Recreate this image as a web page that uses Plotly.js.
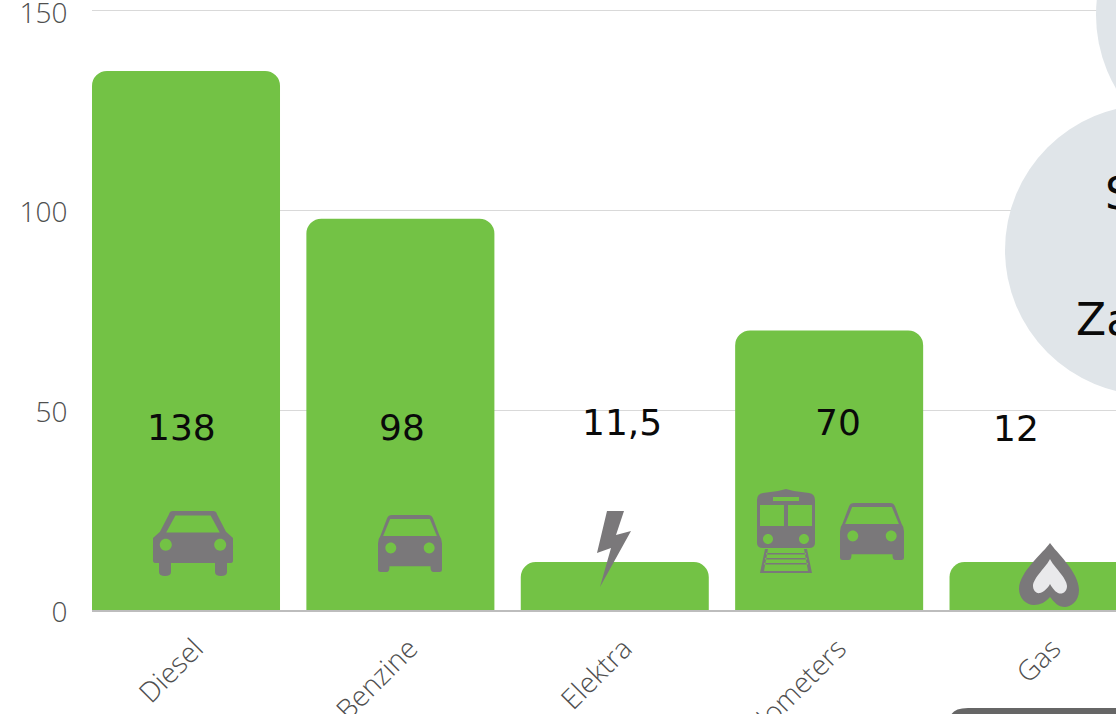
<!DOCTYPE html>
<html>
<head>
<meta charset="utf-8">
<script src="https://cdn.plot.ly/plotly-3.0.1.min.js"></script>
<style>html,body{margin:0;padding:0;background:#fff;overflow:hidden}#c{width:1116px;height:714px}</style>
</head>
<body>
<div id="c"></div>
<script>
const categories = ['Diesel', 'Benzine', 'Elektra', 'Kilometers', 'Gas'];
const barValues = [135, 98, 12, 70, 12];
const valueLabels = ['138', '98', '11,5', '70', '12'];
const yTicks = [0, 50, 100, 150];
const circleWords = ['S', 'Za'];

const W = 1116, H = 714, L = 92, T = 3, B = 610;
const px = x => (x - L) / (W - L);
const py = y => (B - y) / (B - T);
const GREY = '#7a787a', BG = '#e0e5e9';

// icon paths are written in page pixels and converted to paper fractions
const conv = s => s.replace(/(-?[\d.]+),(-?[\d.]+)/g, (m, a, b) => px(+a).toFixed(5) + ',' + py(+b).toFixed(5));
const icon = (d, fill) => ({type: 'path', xref: 'paper', yref: 'paper', path: conv(d), fillcolor: fill || GREY, line: {width: 0}, layer: 'above'});
const k = 0.5523;
const circ = (x, y, r) => `M${x - r},${y} C${x - r},${y - k * r} ${x - k * r},${y - r} ${x},${y - r} C${x + k * r},${y - r} ${x + r},${y - k * r} ${x + r},${y} C${x + r},${y + k * r} ${x + k * r},${y + r} ${x},${y + r} C${x - k * r},${y + r} ${x - r},${y + k * r} ${x - r},${y} Z `;

function car(x0, y0, x1, y1) {
  const w = x1 - x0, h = y1 - y0;
  const P = (a, b) => (x0 + a * w).toFixed(2) + ',' + (y0 + b * h).toFixed(2);
  const outer = `M${P(0, .415)} L${P(.0875, .32)} L${P(.2, .05)} Q${P(.21, 0)} ${P(.25, 0)} L${P(.75, 0)} Q${P(.79, 0)} ${P(.80, .05)} L${P(.9125, .32)} L${P(1, .415)} L${P(1, .76)} Q${P(1, .80)} ${P(.96, .80)} L${P(.925, .80)} L${P(.925, .94)} Q${P(.925, 1)} ${P(.85, 1)} Q${P(.775, 1)} ${P(.775, .94)} L${P(.775, .80)} L${P(.225, .80)} L${P(.225, .94)} Q${P(.225, 1)} ${P(.15, 1)} Q${P(.075, 1)} ${P(.075, .94)} L${P(.075, .80)} L${P(.04, .80)} Q${P(0, .80)} ${P(0, .76)} Z `;
  const win = `M${P(.165, .33)} L${P(.28, .07)} L${P(.72, .07)} L${P(.835, .33)} Z `;
  const r = 0.075 * w;
  return icon(outer + win + circ(x0 + .16 * w, y0 + .52 * h, r) + circ(x0 + .84 * w, y0 + .52 * h, r));
}

function compactCar(x0, y0, x1, y1) {
  const w = x1 - x0, h = y1 - y0;
  const P = (a, b) => (x0 + a * w).toFixed(2) + ',' + (y0 + b * h).toFixed(2);
  const outer = `M${P(0, .5)} Q${P(0, .42)} ${P(.04, .36)} L${P(.14, .06)} Q${P(.16, 0)} ${P(.22, 0)} L${P(.78, 0)} Q${P(.84, 0)} ${P(.86, .06)} L${P(.96, .36)} Q${P(1, .42)} ${P(1, .5)} L${P(1, .96)} Q${P(1, 1)} ${P(.96, 1)} L${P(.86, 1)} Q${P(.82, 1)} ${P(.82, .9)} L${P(.18, .9)} Q${P(.18, 1)} ${P(.14, 1)} L${P(.04, 1)} Q${P(0, 1)} ${P(0, .96)} Z `;
  const win = `M${P(.08, .37)} L${P(.19, .07)} L${P(.81, .07)} L${P(.92, .37)} Z `;
  const r = 0.085 * w;
  return icon(outer + win + circ(x0 + .2 * w, y0 + .58 * h, r) + circ(x0 + .8 * w, y0 + .58 * h, r));
}

const train = icon(
  'M757,500 Q757,494 763,493 L778,491 L786,489 L794,491 L809,493 Q815,494 815,500 L815,543 Q815,548 809,548 L763,548 Q757,548 757,543 Z ' +
  'M760,505 L784,505 L784,526 L760,526 Z M788,505 L812,505 L812,526 L788,526 Z ' +
  'M773,497 L799,497 L799,501 L773,501 Z ' +
  circ(768, 539, 5) + circ(804, 539, 5));
const track = icon(
  'M765,549 L768,549 L764,571 L808,571 L804,549 L807,549 L812,573 L760,573 Z ' +
  'M766,553 L806,553 L806,554.5 L766,554.5 Z M765,558 L807,558 L807,559.5 L765,559.5 Z M764,563 L808,563 L808,564.5 L764,564.5 Z');
const bolt = icon('M607,511 L624,511 L616,535 L631,531 L600,587 L611,548 L597,553 Z');
const dropOuter = icon('M1050,543 C1056,552 1079,572 1079,590 C1079,602 1070,607 1065,607 C1058,607 1054,602 1050,597 C1046,602 1040,605 1034,605 C1026,605 1019,598 1019,589 C1019,572 1044,552 1050,543 Z');
const dropInner = icon('M1050,559 C1053,566 1067,578 1067,586 C1067,592 1062,595 1058,593 C1054,591 1052,587 1050,584 C1048,588 1044,592 1040,593 C1036,594 1033,590 1033,586 C1033,578 1047,566 1050,559 Z', '#e9e9eb');

const bigCircle = {type: 'circle', xref: 'paper', yref: 'paper', x0: px(1005), x1: px(1295), y0: py(395), y1: py(105), fillcolor: BG, line: {width: 0}, layer: 'above'};
const topCircle = {type: 'circle', xref: 'paper', yref: 'paper', x0: px(1096), x1: px(1386), y0: py(160), y1: py(-130), fillcolor: BG, line: {width: 0}, layer: 'above'};
const pill = icon('M950,730 L950,720 Q950,708 968,708 L1130,708 L1130,730 Z', '#666666');

const labelXs = [181, 402, 622, 838, 1016];
const labelYs = [427, 427, 423, 423, 428];
const anns = valueLabels.map((t, i) => ({
  text: t, xref: 'paper', yref: 'paper', x: px(labelXs[i]), y: py(labelYs[i]),
  xanchor: 'center', yanchor: 'middle', showarrow: false,
  font: {family: 'DejaVu Sans', size: 36, color: '#0a0a0a'}
}));
anns.push({text: circleWords[0], xref: 'paper', yref: 'paper', x: px(1103), y: py(194), xanchor: 'left', yanchor: 'middle', showarrow: false, font: {family: 'DejaVu Sans', size: 44, color: '#0a0a0a'}});
anns.push({text: circleWords[1], xref: 'paper', yref: 'paper', x: px(1074), y: py(320), xanchor: 'left', yanchor: 'middle', showarrow: false, font: {family: 'DejaVu Sans', size: 44, color: '#0a0a0a'}});

const tickFont = {family: 'Open Sans', size: 28, color: '#4f4f4f', weight: 300};

Plotly.newPlot('c', [{
  type: 'bar', x: categories, y: barValues,
  width: 0.877,
  marker: {color: '#73c245', cornerradius: 15, line: {width: 0}},
  hoverinfo: 'x+y', textposition: 'none'
}], {
  width: W, height: H, paper_bgcolor: '#fff', plot_bgcolor: '#fff',
  margin: {l: L, r: 0, t: T, b: H - B, pad: 0},
  showlegend: false,
  xaxis: {type: 'category', range: [-0.4385, 4.338], tickangle: -45, tickfont: tickFont, ticks: 'outside', ticklen: 9, tickcolor: 'rgba(0,0,0,0)', ticklabelshift: 9, ticklabeloverflow: 'allow', showgrid: false, zeroline: false, showline: true, linecolor: '#bdbdbd', linewidth: 2, automargin: false, fixedrange: true},
  yaxis: {range: [0, 152], tickvals: yTicks, ticktext: yTicks.map(String), tickfont: tickFont, ticks: 'outside', ticklen: 18, tickcolor: 'rgba(0,0,0,0)', ticklabelshift: 2, ticklabeloverflow: 'allow', showgrid: true, gridcolor: '#d9d9d9', gridwidth: 1, zeroline: false, showline: false, automargin: false, fixedrange: true},
  shapes: [topCircle, bigCircle, car(153, 511, 233, 576), compactCar(378, 515, 442, 572), train, track, compactCar(840, 503, 904, 560), bolt, dropOuter, dropInner, pill],
  annotations: anns
}, {displayModeBar: false, staticPlot: true});
</script>
</body>
</html>
